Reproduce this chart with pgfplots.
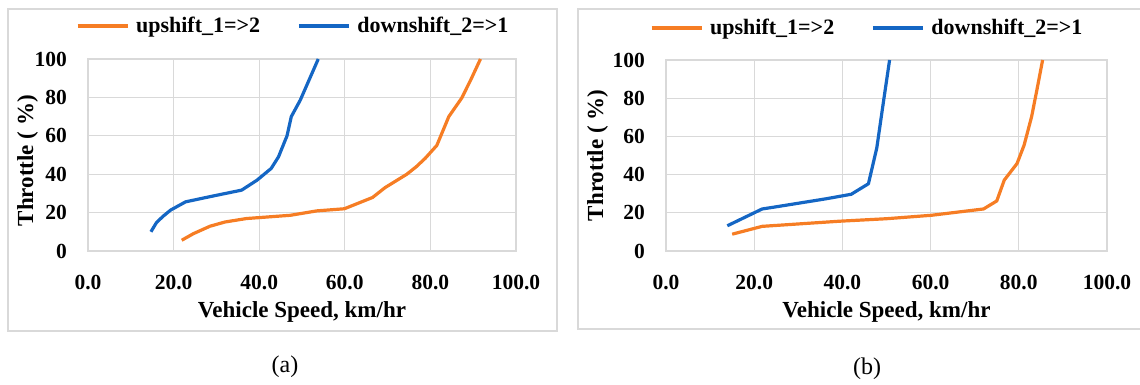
\documentclass[border=0pt]{standalone}
\usepackage{fontspec}
\setmainfont{Liberation Serif}
\usepackage{pgfplots}
\pgfplotsset{compat=1.18}
\definecolor{upc}{RGB}{246,125,36}
\definecolor{dnc}{RGB}{20,102,196}
\definecolor{grd}{RGB}{217,217,217}
\newcommand\lab{\fontsize{21.5}{25}\selectfont\bfseries}
\newcommand\tlab{\fontsize{23}{27}\selectfont\bfseries}
\newcommand\llab{\fontsize{22}{26}\selectfont\bfseries}
\pgfplotsset{
  panel/.style={
    scale only axis,
    xmin=0,xmax=100,ymin=0,ymax=100,
    xtick={0,20,40,60,80,100},
    ytick={0,20,40,60,80,100},
    xticklabels={0.0,20.0,40.0,60.0,80.0,100.0},
    yticklabels={0,20,40,60,80,100},
    grid=major,
    major grid style={draw=grd,line width=1.2pt},
    axis line style={draw=grd,line width=1.2pt},
    tick style={draw=none},
    xticklabel style={font=\lab,anchor=center,inner sep=0pt,yshift=-32pt},
    yticklabel style={font=\lab,anchor=east,inner sep=0pt,xshift=-21pt},
    xlabel={Vehicle Speed, km/hr},
    ylabel={Throttle ( \%)},
    xlabel style={font=\tlab,at={(axis description cs:0.5,0)},anchor=center,yshift=-61pt},
    legend columns=2,
    legend image code/.code={\draw[#1] (0pt,0pt) -- (50pt,0pt);},
    legend style={draw=none,fill=none,font=\llab,nodes={inner sep=0pt},
      /tikz/every odd column/.append style={column sep=7pt},
      /tikz/every even column/.append style={column sep=37pt}},
    every axis plot/.append style={line width=3.2pt,line join=round},
  }
}
\begin{document}
\begin{tikzpicture}
\path[use as bounding box] (0pt,0pt) rectangle (1140pt,385pt);
\draw[grd,line width=1.5pt] (8pt,54pt) rectangle (557pt,376pt);
\draw[grd,line width=1.5pt] (578pt,56pt) rectangle (1150pt,376pt);
\node[font=\fontsize{24}{28}\selectfont] at (285pt,18pt) {(a)};
\node[font=\fontsize{24}{28}\selectfont] at (867pt,16pt) {(b)};
\begin{axis}[panel,at={(88pt,134pt)},anchor=south west,width=428pt,height=192pt,
  ylabel style={font=\tlab,at={(axis description cs:-0.141,0.47)},anchor=center},
  legend style={at={(axis description cs:0.477,1)},anchor=center,yshift=33pt}]
\addplot[upc] coordinates {(21.9,5.6) (24.6,9) (28.5,12.9) (32,15.1) (37,16.9) (47.3,18.6) (53.5,20.9) (59.9,22) (66.5,27.9) (69.4,33) (74.5,40) (76.7,43.9) (78.8,48.3) (81.5,55) (84.3,70) (87.3,79.6) (89.4,89) (91.7,100)};
\addlegendentry{upshift\_1=>2}
\addplot[dnc] coordinates {(14.7,10) (16,14.8) (17.5,18) (19.3,21.3) (22.8,25.6) (27,27.6) (30,29) (35.9,31.7) (39.5,36.9) (42.8,43) (44.5,49) (46.5,60) (47.5,70) (49.6,78.6) (53.8,100)};
\addlegendentry{downshift\_2=>1}
\end{axis}
\begin{axis}[panel,at={(666pt,134pt)},anchor=south west,width=441pt,height=191pt,
  ylabel style={font=\tlab,at={(axis description cs:-0.155,0.5)},anchor=center},
  legend style={at={(axis description cs:0.454,1)},anchor=center,yshift=32pt}]
\addplot[upc] coordinates {(15,8.8) (21.8,12.9) (39.4,15.6) (50,16.9) (60.2,18.7) (72,22) (75,26.2) (76.7,37.1) (79.6,45.8) (81.2,55.4) (82.9,70.3) (84.1,84.3) (85.4,100)};
\addlegendentry{upshift\_1=>2}
\addplot[dnc] coordinates {(13.9,13.2) (21.8,22) (24.6,23) (36.2,27.3) (42,29.7) (45.9,35.2) (47.8,54) (49.3,78) (50.7,100)};
\addlegendentry{downshift\_2=>1}
\end{axis}
\end{tikzpicture}
\end{document}
